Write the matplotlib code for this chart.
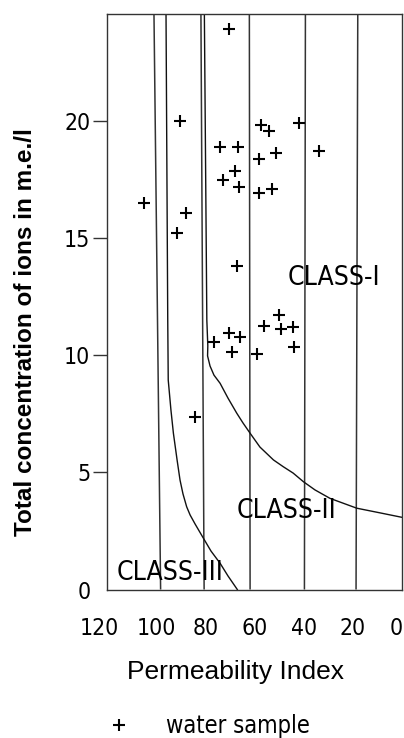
import matplotlib
matplotlib.use("Agg")
import matplotlib.pyplot as plt
from matplotlib.lines import Line2D
from matplotlib.transforms import ScaledTranslation

narrow = {'family': 'DejaVu Sans', 'stretch': 'condensed'}
plain = ['Liberation Sans', 'DejaVu Sans']

# water samples: permeability index (%) vs total concentration (me/l)
pi_vals = [70.2, 90.3, 57.4, 54.0, 41.9, 33.8, 74.0, 66.8, 58.0, 51.2,
           67.9, 72.9, 66.2, 58.0, 53.0, 105.0, 87.9, 91.6, 67.0, 50.0,
           56.0, 49.3, 44.2, 43.9, 70.2, 65.9, 76.5, 69.0, 58.9, 84.2]
conc_vals = [23.91, 20.01, 19.83, 19.57, 19.92, 18.73, 18.87, 18.87, 18.36, 18.64,
             17.86, 17.48, 17.17, 16.91, 17.08, 16.51, 16.08, 15.23, 13.81, 11.72,
             11.25, 11.11, 11.19, 10.34, 10.96, 10.76, 10.58, 10.15, 10.04, 7.35]

# class I / class II boundary
bnd1_pi = [80.4, 79.4, 79.0, 79.1, 78.1, 76.5, 74.0, 70.8, 67.2, 64.7, 61.8,
           57.8, 52.3, 48.3, 44.3, 40.1, 35.4, 29.3, 18.4, 8.9, 0.0]
bnd1_c = [24.56, 11.50, 10.4, 9.97, 9.54, 9.15, 8.80, 8.17, 7.52, 7.11, 6.67,
          6.08, 5.53, 5.24, 4.97, 4.60, 4.25, 3.89, 3.47, 3.27, 3.08]

# class II / class III boundary
bnd2_pi = [96.0, 95.3, 95.1, 94.0, 93.0, 91.5, 90.3, 89.1, 87.6, 86.2, 84.2,
           80.8, 77.7, 74.0, 70.8, 67.0]
bnd2_c = [24.56, 11.50, 8.94, 7.66, 6.67, 5.53, 4.67, 4.08, 3.53, 3.18, 2.80,
          2.19, 1.64, 1.12, 0.58, 0.0]

# hand drawn vertical guide lines (value at top, value at bottom)
guide_top = [100.9, 81.8, 62.1, 39.3, 18.0]
guide_bot = [98.2, 80.5, 61.8, 39.7, 18.7]

x_ticks = [120, 100, 80, 60, 40, 20, 0]
y_ticks = [0, 5, 10, 15, 20]
ytop = 24.56

fig = plt.figure(figsize=(4.04, 7.38), dpi=100)
ax = fig.add_axes([0.2649, 0.2012, 0.7302, 0.7798])

for t, b in zip(guide_top, guide_bot):
    ax.plot([t, b], [ytop, 0], color='#333333', lw=1.1, solid_capstyle='butt')
ax.plot(bnd1_pi, bnd1_c, color='#111111', lw=1.0)
ax.plot(bnd2_pi, bnd2_c, color='#111111', lw=1.0)
ax.plot(pi_vals, conc_vals, '+', color='black', ms=8.5, mew=1.5)

ax.text(27.6, 13.3, 'CLASS-I', fontsize=19, ha='center', va='center', **narrow)
ax.text(47.0, 3.35, 'CLASS-II', fontsize=19, ha='center', va='center', **narrow)
ax.text(94.4, 0.72, 'CLASS-III', fontsize=19, ha='center', va='center', **narrow)

ax.set_xlim(120, 0)
ax.set_ylim(0, ytop)
for s in ax.spines.values():
    s.set_color('#333333')
    s.set_linewidth(1.0)

ax.set_xticks(x_ticks)
ax.set_xticklabels([str(v) for v in x_ticks], fontsize=16.5, **narrow)
ax.tick_params(axis='x', length=0, pad=20)
ax.set_yticks(y_ticks)
ax.set_yticklabels([str(v) for v in y_ticks], fontsize=16.5, **narrow)
ax.tick_params(axis='y', length=10, width=1.0, color='#333333', pad=2)
ax.yaxis.get_major_ticks()[0].tick1line.set_visible(False)
lab120 = ax.get_xticklabels()[0]
lab120.set_transform(lab120.get_transform() + ScaledTranslation(-8 / 100, 0, fig.dpi_scale_trans))
lab0 = ax.get_xticklabels()[-1]
lab0.set_transform(lab0.get_transform() + ScaledTranslation(-6 / 100, 0, fig.dpi_scale_trans))

ax.set_xlabel('Permeability Index', family=plain, fontsize=19)
ax.xaxis.set_label_coords(0.4356, -0.1225)
ax.set_ylabel('Total concentration of ions in m.e./l', family=plain, fontsize=17.5,
              fontweight='bold')
ax.yaxis.set_label_coords(-0.237, 0.447)

handle = Line2D([], [], marker='+', ls='none', color='black', ms=8.5, mew=1.5)
fig.legend([handle], ['water sample'], loc='lower left', bbox_to_anchor=(107 / 404, 0.0),
           frameon=False, borderpad=0, borderaxespad=0, handlelength=1.0,
           handletextpad=1.5, prop={'size': 17, **narrow})

fig.savefig('out.png', dpi=100)
